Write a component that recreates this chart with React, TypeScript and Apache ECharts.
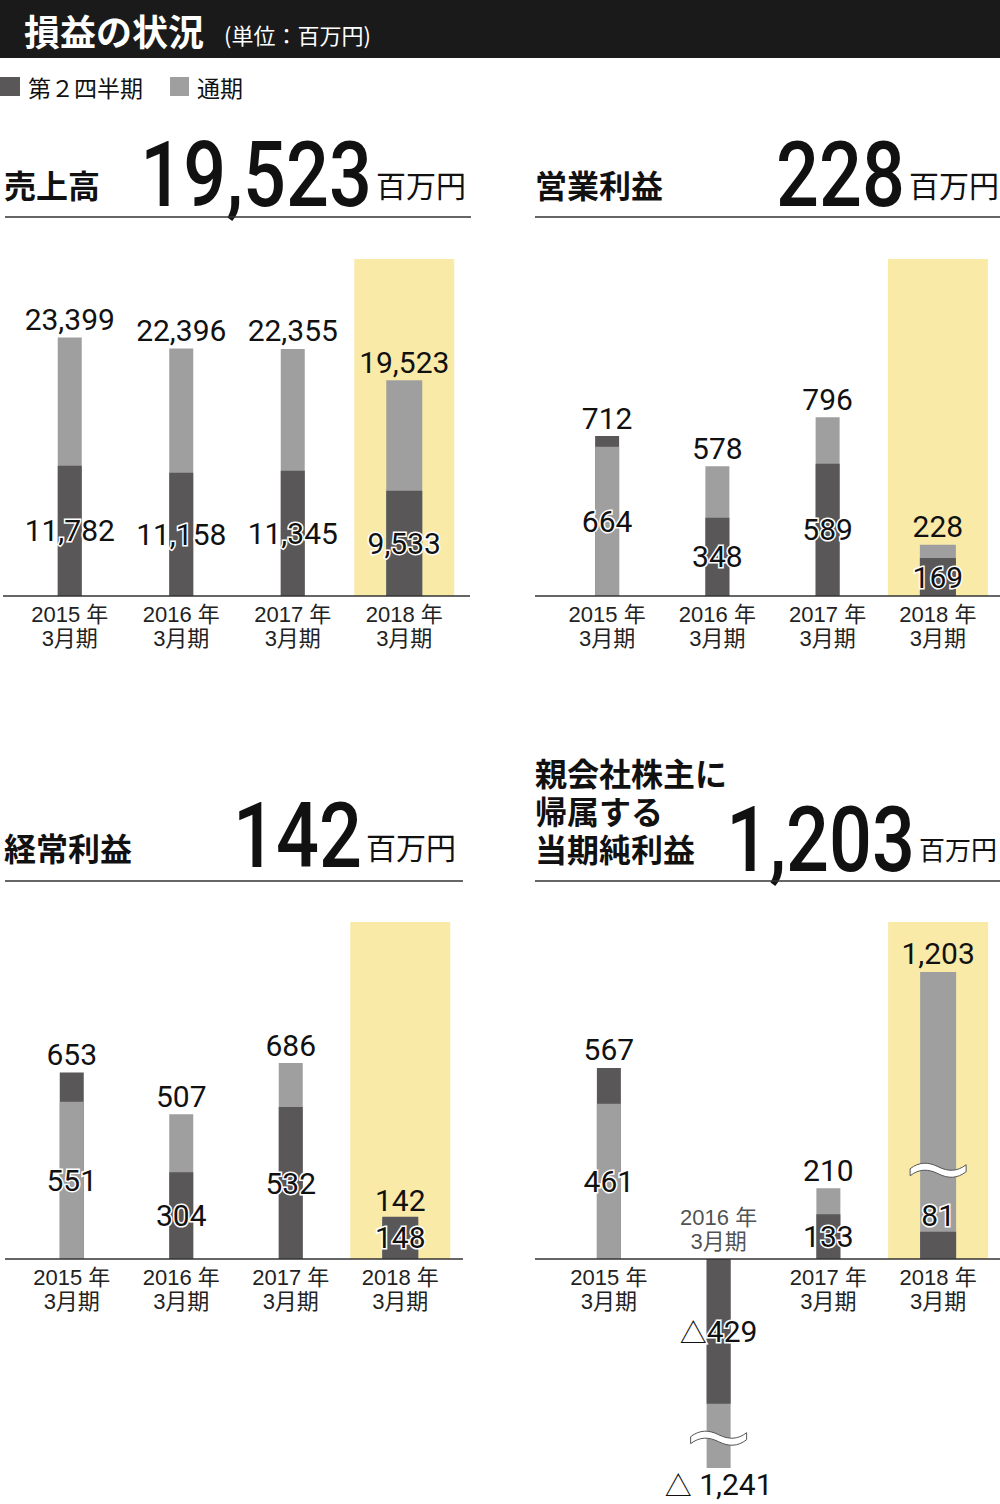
import React, { useEffect, useRef } from 'react';
import * as echarts from 'echarts';

// 決算期
const categories = ['2015 年\n3月期', '2016 年\n3月期', '2017 年\n3月期', '2018 年\n3月期'];

// 売上高
const salesQ2 = [11782, 11158, 11345, 9533];
const salesFY = [23399, 22396, 22355, 19523];
// 営業利益
const opQ2 = [712, 348, 589, 169];
const opFY = [664, 578, 796, 228];
// 経常利益
const ordQ2 = [653, 304, 532, 148];
const ordFY = [551, 507, 686, 142];
// 親会社株主に帰属する当期純利益
const netQ2 = [567, -429, 133, 81];
const netFY = [461, -1241, 210, 1203];

const DARK = '#595757';
const LIGHT = '#a09f9f';
const YELLOW = '#f9eaa8';
const INK = '#111';
const JP = "'Noto Sans CJK JP', 'Noto Sans CJK SC', sans-serif";
const NUM = "Roboto, 'Noto Sans', sans-serif";
const CAT = "'Liberation Sans', 'Noto Sans CJK JP', sans-serif";

// 波線（省略記号）
const WAVE =
  'M -28 -1 C -19 -8 -10 -8 0 -3 C 10 2 19 2 28 -5 L 28 2 C 19 9 10 9 0 4 C -10 -1 -19 -1 -28 6 Z';

type Cut = { at: number; cut: number } | null;

interface Panel {
  title: string[];
  q2: number[];
  fy: number[];
  frontIsQ2: boolean[];
  frontLabelAbove: boolean[];
  breaks: Cut[];
  min: number;
  max: number;
  grid: { left: number; top: number; width: number; height: number };
  titleX: number;
  titleY: number;
  numRight: number;
  numY: number;
  unitY: number;
  unitSize: number;
  rule: [number, number, number];
  base: [number, number];
}

const wide = [false, false, false, true];
const none: Cut[] = [null, null, null, null];

const panels: Panel[] = [
  {
    title: ['売上高'],
    q2: salesQ2,
    fy: salesFY,
    frontIsQ2: [true, true, true, true],
    frontLabelAbove: [false, false, false, false],
    breaks: none,
    min: 0,
    max: 30500,
    grid: { left: 14, top: 259, width: 446, height: 337 },
    titleX: 4,
    titleY: 184,
    numRight: 372,
    numY: 175,
    unitY: 184,
    unitSize: 30,
    rule: [5, 471, 217],
    base: [3, 470],
  },
  {
    title: ['営業利益'],
    q2: opQ2,
    fy: opFY,
    frontIsQ2: [false, true, true, true],
    frontLabelAbove: [false, false, false, false],
    breaks: none,
    min: 0,
    max: 1500,
    grid: { left: 552, top: 259, width: 441, height: 337 },
    titleX: 535,
    titleY: 184,
    numRight: 905,
    numY: 175,
    unitY: 184,
    unitSize: 30,
    rule: [535, 1000, 217],
    base: [535, 1000],
  },
  {
    title: ['経常利益'],
    q2: ordQ2,
    fy: ordFY,
    frontIsQ2: [false, true, true, true],
    frontLabelAbove: [false, false, false, false],
    breaks: none,
    min: 0,
    max: 1180,
    grid: { left: 17, top: 922, width: 438, height: 337 },
    titleX: 4,
    titleY: 847,
    numRight: 362,
    numY: 836,
    unitY: 846,
    unitSize: 30,
    rule: [5, 463, 881],
    base: [5, 463],
  },
  {
    title: ['親会社株主に', '帰属する', '当期純利益'],
    q2: netQ2,
    fy: netFY,
    frontIsQ2: [false, true, true, true],
    frontLabelAbove: [false, false, false, true],
    breaks: [null, { at: -530, cut: 621 }, null, { at: 265, cut: 351 }],
    min: -700,
    max: 1000,
    grid: { left: 554, top: 922, width: 439, height: 573 },
    titleX: 535,
    titleY: 810,
    numRight: 915,
    numY: 840,
    unitY: 848,
    unitSize: 26,
    rule: [535, 1000, 881],
    base: [535, 1000],
  },
];

const fmt = (v: number, gap = '') => (v < 0 ? '△' + gap : '') + Math.abs(v).toLocaleString('en-US');

const labelBase = {
  show: true,
  fontFamily: NUM,
  fontSize: 30,
  lineHeight: 26,
  color: INK,
  rich: { t: { fontFamily: JP, fontSize: 27, lineHeight: 26, color: INK } },
};

function richFmt(v: number, gap: string) {
  const s = fmt(v, gap);
  return v < 0 ? '{t|△}' + s.slice(1) : s;
}

const hasNegative = (p: Panel, i: number) => p.q2[i] < 0 || p.fy[i] < 0;

function buildSeries() {
  const series: any[] = [];
  panels.forEach((p, k) => {
    const shownFy = p.fy.map((v, i) => {
      const b = p.breaks[i];
      return b ? v - Math.sign(v) * b.cut : v;
    });
    const item = (i: number, front: boolean) => {
      const useQ2 = front ? p.frontIsQ2[i] : !p.frontIsQ2[i];
      const real = useQ2 ? p.q2[i] : p.fy[i];
      const shown = useQ2 ? p.q2[i] : shownFy[i];
      let label: any;
      if (front) {
        label = p.frontLabelAbove[i]
          ? { position: 'top', distance: 3, textBorderColor: '#fff', textBorderWidth: 3 }
          : { position: 'inside', textBorderColor: '#fff', textBorderWidth: 3 };
      } else {
        label = real < 0 ? { position: 'bottom', distance: 3 } : { position: 'top', distance: 5 };
      }
      return { value: shown, real, front, itemStyle: { color: useQ2 ? DARK : LIGHT }, label };
    };
    const formatter = (prm: any) => richFmt(prm.data.real, prm.data.front ? '' : ' ');

    // 当期のハイライト
    series.push({
      type: 'bar',
      xAxisIndex: 4 + k,
      yAxisIndex: k,
      barWidth: 100,
      silent: true,
      z: 1,
      itemStyle: { color: YELLOW },
      data: categories.map((_, i) => (wide[i] ? p.max : null)),
    });

    [false, true].forEach((isWide) => {
      const xi = isWide ? 8 + k : k;
      [false, true].forEach((front) => {
        series.push({
          type: 'bar',
          xAxisIndex: xi,
          yAxisIndex: k,
          barWidth: isWide ? 36 : 24,
          barGap: '-100%',
          z: front ? 3 : 2,
          label: { ...labelBase, formatter },
          data: categories.map((_, i) => (wide[i] === isWide ? item(i, front) : null)),
        });
      });
    });

    // 省略の波線
    const cuts = p.breaks.map((b, i) => (b ? [i, b.at] : null)).filter(Boolean);
    if (cuts.length) {
      series.push({
        type: 'custom',
        xAxisIndex: k,
        yAxisIndex: k,
        z: 5,
        silent: true,
        clip: false,
        data: cuts,
        renderItem: (_: any, api: any) => {
          const pt = api.coord([api.value(0), api.value(1)]);
          return {
            type: 'path',
            x: pt[0],
            y: pt[1],
            shape: { pathData: WAVE },
            style: { fill: '#fff', stroke: '#555', lineWidth: 1 },
          };
        },
      });
    }

    // マイナス期の期ラベルは軸の上に置く
    const above = categories.map((_, i) => (hasNegative(p, i) ? [i, 0] : null)).filter(Boolean);
    if (above.length) {
      series.push({
        type: 'scatter',
        xAxisIndex: k,
        yAxisIndex: k,
        symbolSize: 0,
        silent: true,
        z: 4,
        data: above,
        label: {
          show: true,
          position: 'top',
          distance: 6,
          fontFamily: CAT,
          fontSize: 22,
          lineHeight: 24,
          color: '#222',
          formatter: (prm: any) => categories[prm.value[0]],
        },
      });
    }
  });
  return series;
}

function buildOption() {
  const mainAxes = panels.map((p, k) => ({
    type: 'category',
    gridIndex: k,
    data: categories,
    // 軸はゼロの位置に置く
    offset: -(p.grid.height * (0 - p.min)) / (p.max - p.min),
    axisLine: { show: false, onZero: false },
    axisTick: { show: false },
    axisLabel: {
      interval: 0,
      margin: 6,
      fontFamily: CAT,
      fontSize: 22,
      lineHeight: 24,
      color: '#222',
      formatter: (v: string, i: number) => (hasNegative(p, i) ? '' : v),
    },
  }));
  const hidden = panels.map((_, k) => ({ type: 'category', gridIndex: k, data: categories, show: false }));
  return {
    animation: false,
    grid: panels.map((p) => ({ ...p.grid, outerBoundsMode: 'none', containLabel: false })),
    xAxis: [...mainAxes, ...hidden, ...hidden.map((a) => ({ ...a }))],
    yAxis: panels.map((p, k) => ({
      type: 'value',
      gridIndex: k,
      min: p.min,
      max: p.max,
      show: false,
      splitLine: { show: false },
    })),
    series: buildSeries(),
  };
}

function txt(text: string, x: number, y: number, size: number, opt: any = {}) {
  return {
    type: 'text',
    x,
    y,
    scaleX: opt.scaleX || 1,
    silent: true,
    style: {
      text,
      fill: opt.fill || INK,
      fontFamily: opt.font || JP,
      fontSize: size,
      fontWeight: opt.weight || 'normal',
      lineHeight: opt.lineHeight,
      textAlign: opt.align || 'left',
      align: opt.align || 'left',
      textVerticalAlign: 'middle',
      verticalAlign: 'middle',
    },
  };
}

function buildGraphic(zeroY: number[]) {
  const els: any[] = [
    { type: 'rect', shape: { x: 0, y: 0, width: 1000, height: 58 }, style: { fill: '#1a1a1a' }, silent: true },
    txt('損益の状況', 24, 30, 36, { fill: '#fff', weight: 'bold' }),
    txt('(単位：百万円)', 224, 34, 22, { fill: '#fff' }),
    { type: 'rect', shape: { x: 0, y: 77, width: 20, height: 19 }, style: { fill: DARK }, silent: true },
    txt('第２四半期', 28, 87, 23),
    { type: 'rect', shape: { x: 170, y: 77, width: 19, height: 19 }, style: { fill: LIGHT }, silent: true },
    txt('通期', 197, 87, 23),
  ];
  panels.forEach((p, k) => {
    els.push(txt(p.title.join('\n'), p.titleX, p.titleY, 32, { weight: 'bold', lineHeight: 38 }));
    els.push(txt(fmt(p.fy[3]), p.numRight, p.numY, 90, { font: NUM, align: 'right', weight: 500, scaleX: 0.84 }));
    els.push(txt('百万円', p.numRight + 4, p.unitY, p.unitSize));
    els.push({
      type: 'line',
      silent: true,
      shape: { x1: p.rule[0], y1: p.rule[2], x2: p.rule[1], y2: p.rule[2] },
      style: { stroke: '#333', lineWidth: 1.5 },
    });
    els.push({
      type: 'line',
      silent: true,
      z: 10,
      shape: { x1: p.base[0], y1: zeroY[k], x2: p.base[1], y2: zeroY[k] },
      style: { stroke: '#333', lineWidth: 1.5 },
    });
  });
  return els;
}

export default function App() {
  const chartRef = useRef<HTMLDivElement>(null);

  useEffect(() => {
    if (!chartRef.current) return;
    const chart = echarts.init(chartRef.current, null, { renderer: 'svg' });
    chart.setOption(buildOption() as any);
    const zeroY = panels.map((_, k) => chart.convertToPixel({ yAxisIndex: k }, 0) as number);
    chart.setOption({ graphic: buildGraphic(zeroY) } as any);
    return () => {
      chart.dispose();
    };
  }, []);

  return (
    <div style={{ position: 'absolute', left: 0, top: 0, width: 1000, height: 1504, background: '#fff' }}>
      <div ref={chartRef} style={{ width: 1000, height: 1504 }} />
    </div>
  );
}
